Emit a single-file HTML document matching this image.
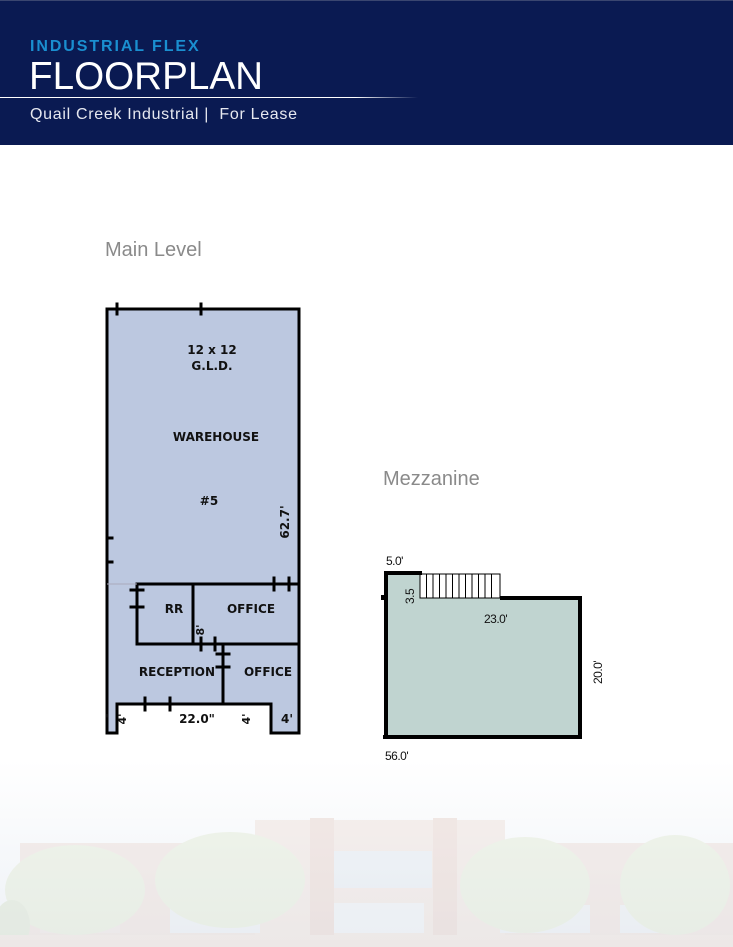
<!DOCTYPE html>
<html><head><meta charset="utf-8"><style>
html,body{margin:0;padding:0;width:733px;height:947px;overflow:hidden;background:#fff;font-family:"Liberation Sans",sans-serif;}
</style></head><body>
<svg width="733" height="947" viewBox="0 0 733 947" xmlns="http://www.w3.org/2000/svg" style="position:absolute;left:0;top:0">
<defs>
<linearGradient id="ln" x1="0" x2="1"><stop offset="0" stop-color="#fff"/><stop offset="0.85" stop-color="#fff"/><stop offset="1" stop-color="#fff" stop-opacity="0"/></linearGradient>
<linearGradient id="sky" x1="0" y1="0" x2="0" y2="1"><stop offset="0" stop-color="#fff"/><stop offset="1" stop-color="#edf1f6"/></linearGradient>
</defs>
<!-- header -->
<rect x="0" y="0" width="733" height="145" fill="#0a1a52"/>
<rect x="0" y="0" width="733" height="1" fill="#3a4670"/>
<text x="30" y="51" font-size="16" font-weight="bold" fill="#1a8fd0" letter-spacing="1.3" textLength="170">INDUSTRIAL FLEX</text>
<text x="29" y="89" font-size="39" fill="#fff" textLength="234" lengthAdjust="spacingAndGlyphs">FLOORPLAN</text>
<rect x="0" y="97" width="418" height="1" fill="url(#ln)"/>
<text x="30" y="119" font-size="16" fill="#e6e8f0" textLength="267" xml:space="preserve">Quail Creek Industrial |  For Lease</text>
<!-- bottom photo -->
<rect x="0" y="760" width="733" height="187" fill="url(#sky)"/>
<g opacity="0.4">
<rect x="20" y="843" width="713" height="95" fill="#e9d7d0"/>
<rect x="255" y="820" width="250" height="118" fill="#ecdcd4"/>
<rect x="310" y="818" width="24" height="120" fill="#e5cbc2"/>
<rect x="433" y="818" width="24" height="120" fill="#e5cbc2"/>
<rect x="334" y="851" width="98" height="37" fill="#dfe6ee"/>
<rect x="334" y="903" width="90" height="30" fill="#e8ecf0"/>
<rect x="170" y="905" width="90" height="28" fill="#e6eaee"/>
<rect x="500" y="905" width="90" height="28" fill="#e6eaee"/>
<rect x="620" y="905" width="70" height="28" fill="#e6eaee"/>
<rect x="40" y="905" width="80" height="28" fill="#e9dcd8"/>
<ellipse cx="75" cy="890" rx="70" ry="45" fill="#dfe8cf"/>
<ellipse cx="230" cy="880" rx="75" ry="48" fill="#dfe8cf"/>
<ellipse cx="525" cy="885" rx="65" ry="48" fill="#dfe8cf"/>
<ellipse cx="675" cy="885" rx="55" ry="50" fill="#dfe8cf"/>
<ellipse cx="12" cy="925" rx="18" ry="25" fill="#d4dfc6"/>
<rect x="0" y="935" width="733" height="12" fill="#eddcd2"/>
</g>
<!-- titles -->
<text x="105" y="256" font-size="20" fill="#8a8a8a">Main Level</text>
<text x="383" y="485" font-size="20" fill="#8a8a8a">Mezzanine</text>
<!-- main plan -->
<path d="M107,309 H299 V733 H271 V704 H117 V733 H107 Z" fill="#bcc8e0"/>
<g stroke="#000" stroke-width="3" fill="none" stroke-linecap="square">
<path d="M107,733 V309 H299 V733 H271 V704 H117 V733 H107"/>
<path d="M137,584 H299 M137,584 V644 H299 M193,584 V644 M223,644 V704"/>
<path d="M117,304 V314 M201,304 V314 M107,538 H112 M107,562 H112 M131,590 H143 M131,607 H143 M274,578 V590 M289,578 V590 M201,638 V650 M215,638 V650 M217,654 H229 M217,667 H229 M145,698 V710 M170,698 V710"/>
</g>
<line x1="107" y1="584" x2="137" y2="584" stroke="#aab" stroke-width="1"/>
<g font-size="12" font-weight="bold" fill="#111" text-anchor="middle" style="font-family:'DejaVu Sans','Liberation Sans',sans-serif">
<text x="212" y="354">12 x 12</text>
<text x="212" y="370">G.L.D.</text>
<text x="216" y="441">WAREHOUSE</text>
<text x="209" y="505">#5</text>
<text x="174" y="613">RR</text>
<text x="251" y="613">OFFICE</text>
<text x="177" y="676">RECEPTION</text>
<text x="268" y="676">OFFICE</text>
<text x="197" y="723">22.0"</text>
<text x="287" y="723">4'</text>
<text transform="translate(289,522) rotate(-90)">62.7'</text>
<text transform="translate(204,630) rotate(-90)" font-size="11">8'</text>
<text transform="translate(126,719) rotate(-90)" font-size="11">4'</text>
<text transform="translate(250,719) rotate(-90)" font-size="11">4'</text>
<text x="107" y="723">'</text>
</g>
<!-- mezzanine -->
<path d="M386,573 H420 V598 H580 V737 H386 Z" fill="#c0d4d0"/>
<rect x="420" y="574" width="80" height="24" fill="#fff" stroke="#000" stroke-width="1"/>
<g stroke="#000" stroke-width="1">
<line x1="426.5" y1="574" x2="426.5" y2="598"/><line x1="433" y1="574" x2="433" y2="598"/><line x1="439.5" y1="574" x2="439.5" y2="598"/><line x1="446" y1="574" x2="446" y2="598"/><line x1="452.5" y1="574" x2="452.5" y2="598"/><line x1="459" y1="574" x2="459" y2="598"/><line x1="465.5" y1="574" x2="465.5" y2="598"/><line x1="472" y1="574" x2="472" y2="598"/><line x1="478.5" y1="574" x2="478.5" y2="598"/><line x1="485" y1="574" x2="485" y2="598"/><line x1="491.5" y1="574" x2="491.5" y2="598"/>
</g>
<g stroke="#000" stroke-width="4" fill="none">
<path d="M386,737 V573 H422 M500,598 H580 V737 H383"/>
<path d="M383,595 V600"/>
</g>
<g font-size="12" fill="#111" style="font-family:'Liberation Sans Narrow','Liberation Sans',sans-serif" letter-spacing="-0.5">
<text x="386" y="565">5.0'</text>
<text x="484" y="623">23.0'</text>
<text x="385" y="760">56.0'</text>
<text transform="translate(414,604) rotate(-90)">3.5</text>
<text transform="translate(602,684) rotate(-90)">20.0'</text>
</g>
</svg>
</body></html>
